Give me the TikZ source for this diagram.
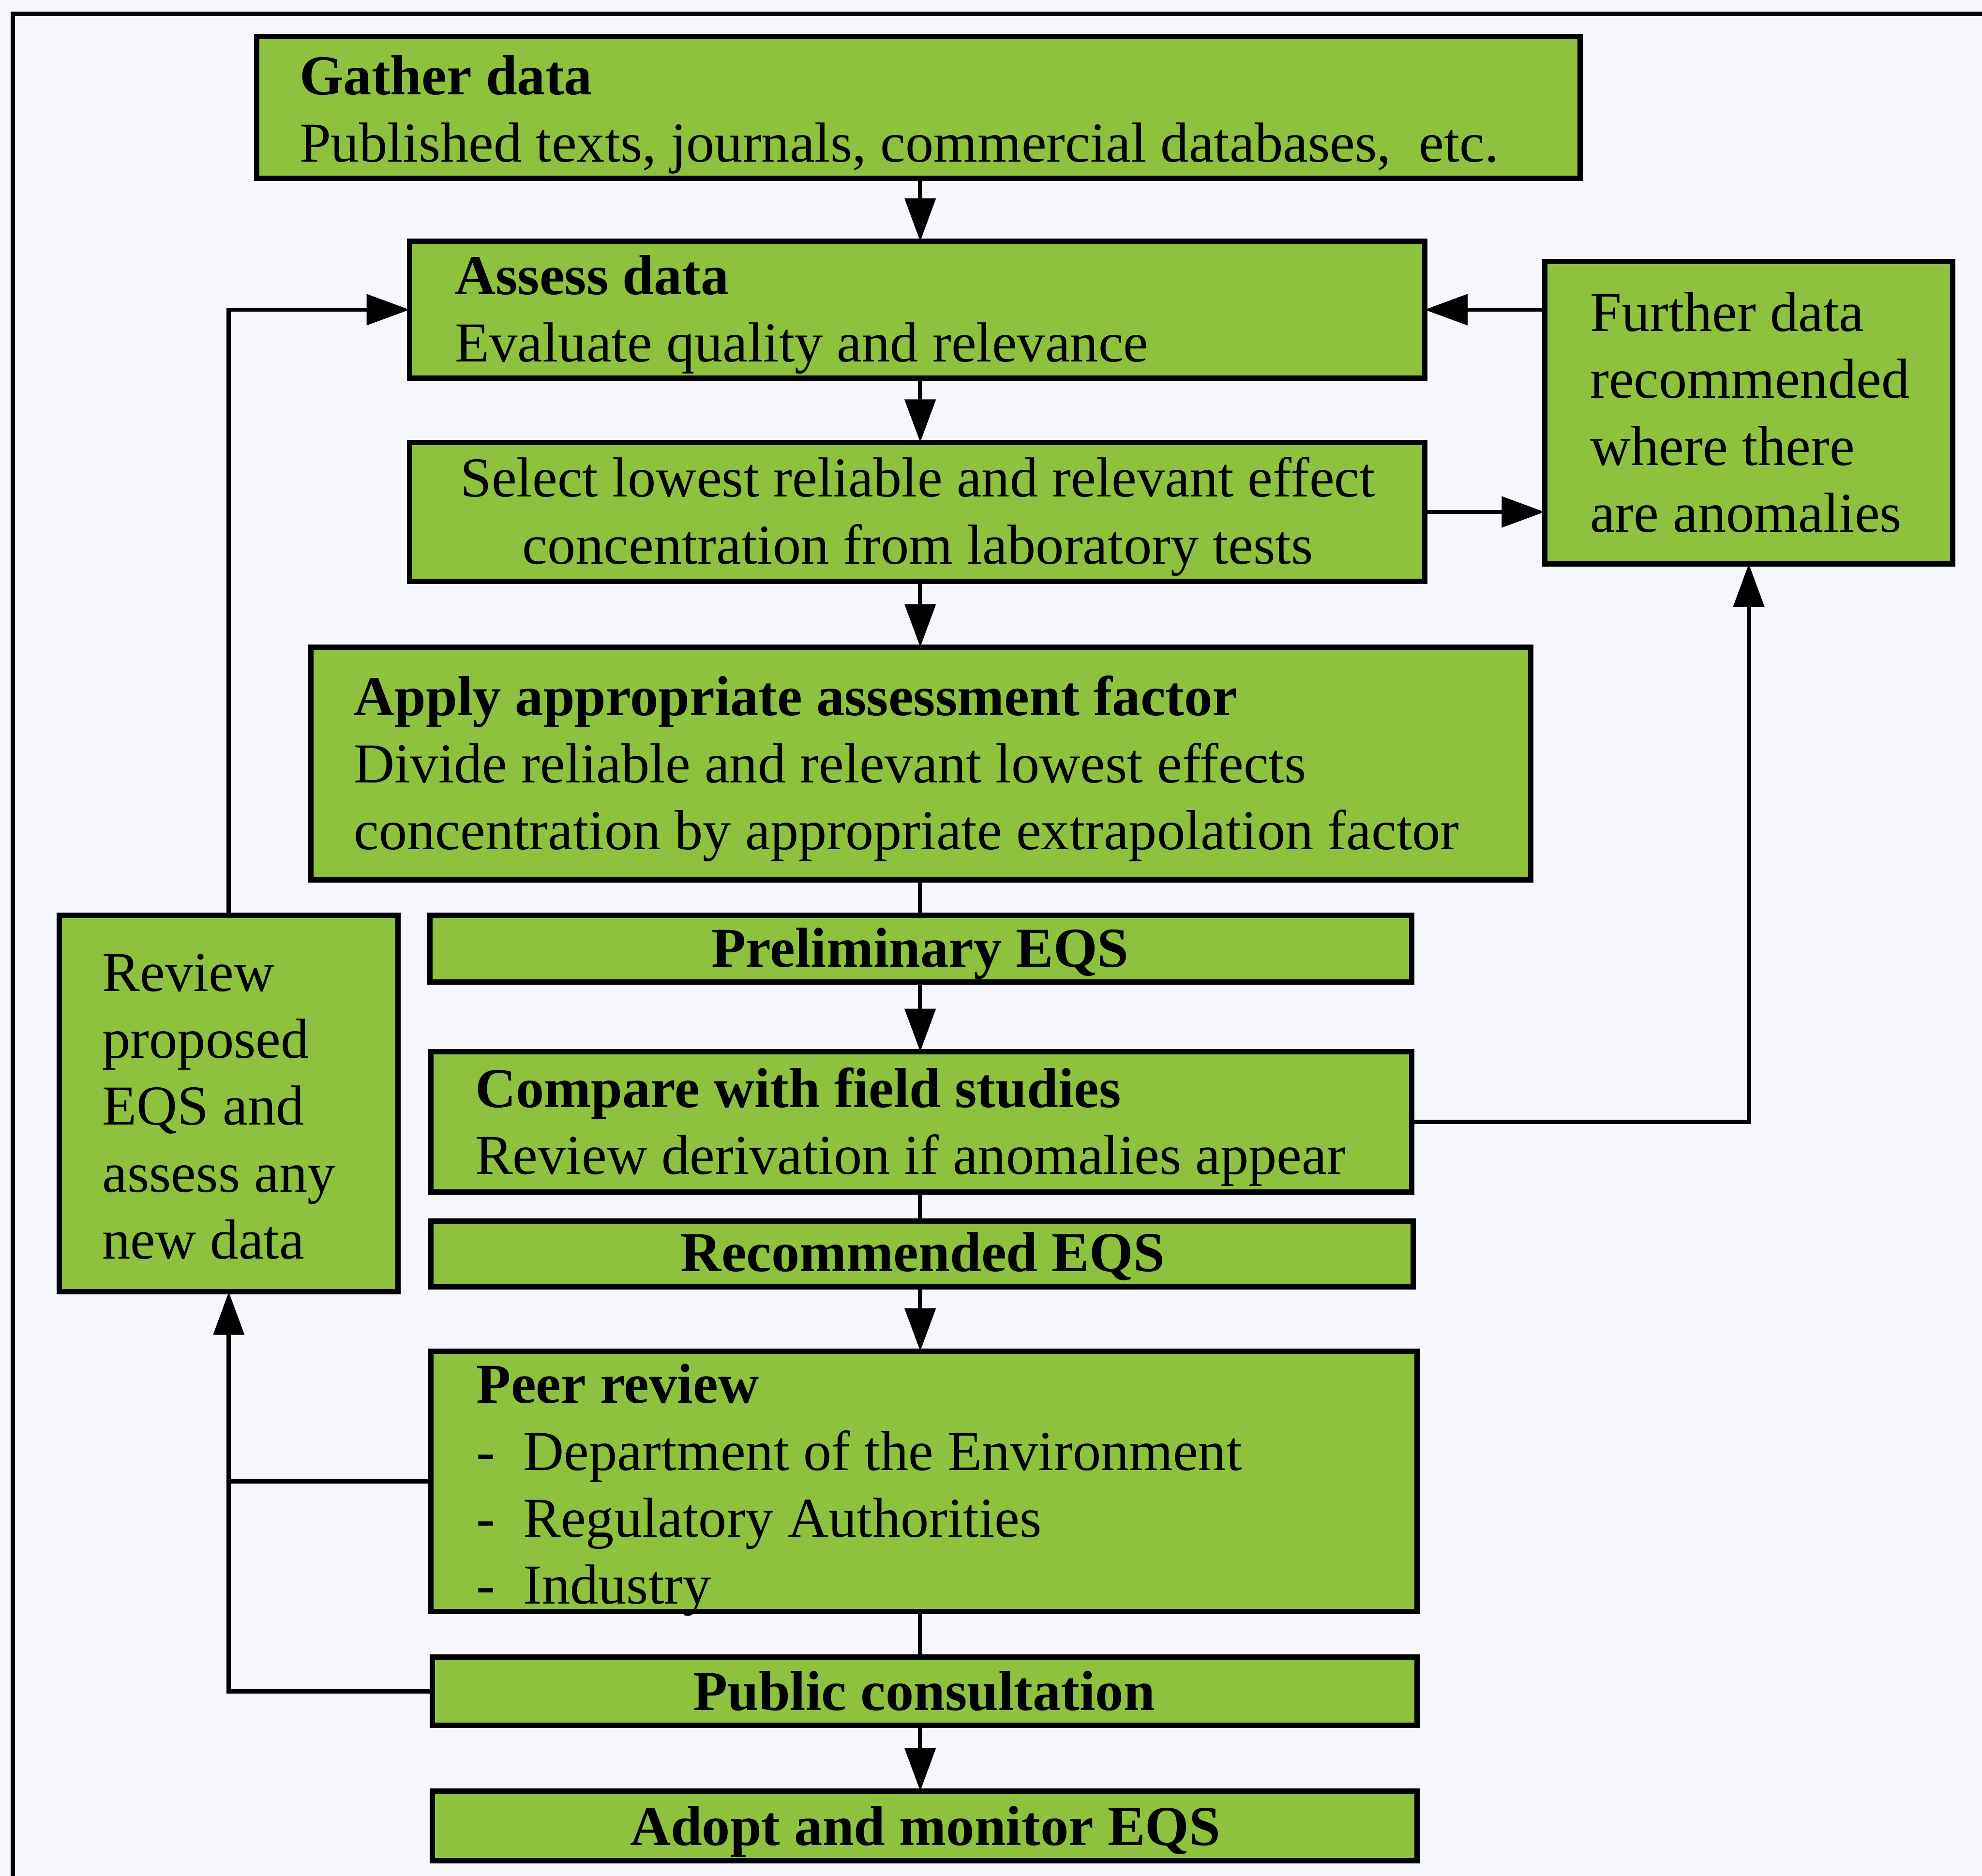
\documentclass[tikz,border=0pt]{standalone}
\usepackage{fontspec}
\setmainfont{Liberation Serif}
\usetikzlibrary{arrows.meta}
\definecolor{paper}{RGB}{246,247,252}
\definecolor{leaf}{RGB}{141,193,62}
% stack of lines; the baseline of the whole stack is that of its first line
\newcommand\linestack[1]{\vtop{\baselineskip=53pt\lineskiplimit=-200pt\lineskip=0pt #1}}
\newcommand\bulletline[1]{\hbox{\hbox to 37pt{-\hfil}#1}}
\begin{document}
\begin{tikzpicture}[x=1pt,y=-1pt,
  box/.style={draw=black, line width=4.2pt, fill=leaf, anchor=north west,
              inner sep=0pt, outer sep=0pt},
  txt/.style={inner sep=0pt, outer sep=0pt, font=\fontsize{44.6}{53}\selectfont},
  lbl/.style={txt, anchor=base west},
  ctr/.style={txt, anchor=base, font=\fontsize{44.6}{53}\selectfont\bfseries},
  link/.style={draw=black, line width=3.4pt},
  arr/.style={link, -{Triangle[length=34pt,width=24pt]}},
  frame/.style={draw=black, line width=3.4pt},
]
\useasboundingbox (0,0) rectangle (1568,1484);
\fill[paper] (0,0) rectangle (1568,1484);

% page frame: top rule and left rule
\coordinate (corner) at (10,11);
\draw[frame] (corner |- 0,1484) -- (corner) -- (1568,11);

% boxes (top-left corner, width, height)
\node[box, minimum width={1250-203}, minimum height={141-29}] (gather) at (203,29) {};
\node[box, minimum width={1127-324}, minimum height={299-191}] (assess) at (324,191) {};
\node[box, minimum width={1545-1222}, minimum height={446-207}] (further) at (1222,207) {};
\node[box, minimum width={1127-324}, minimum height={460-350}] (select) at (324,350) {};
\node[box, minimum width={1211-246}, minimum height={696-512}] (apply) at (246,512) {};
\node[box, minimum width={1117-340}, minimum height={777-724}] (prelim) at (340,724) {};
\node[box, minimum width={315-47}, minimum height={1022-724}] (review) at (47,724) {};
\node[box, minimum width={1117-341}, minimum height={943-832}] (compare) at (341,832) {};
\node[box, minimum width={1118-341}, minimum height={1018-966}] (recom) at (341,966) {};
\node[box, minimum width={1121-341}, minimum height={1275-1069}] (peer) at (341,1069) {};
\node[box, minimum width={1121-342}, minimum height={1365-1311}] (public) at (342,1311) {};
\node[box, minimum width={1121-342}, minimum height={1472-1417}] (adopt) at (342,1417) {};

% box texts
\node[lbl] (gatherT) at (237,75) {\linestack{\hbox{\bfseries Gather data}
  \hbox{Published texts, journals, commercial databases,\ \ etc.}}};
\node[lbl] (assessT) at (360,233) {\linestack{\hbox{\bfseries Assess data}
  \hbox{Evaluate quality and relevance}}};
\node[txt, anchor=base] (selectT1) at (726,393) {Select lowest reliable and relevant effect};
\node[txt, anchor=base] (selectT2) at (726,446) {concentration from laboratory tests};
\node[lbl] (furtherT) at (1258,262) {\linestack{\hbox{Further data}
  \hbox{recommended}\hbox{where there}\hbox{are anomalies}}};
\node[lbl] (applyT) at (280,566) {\linestack{\hbox{\bfseries Apply appropriate assessment factor}
  \hbox{Divide reliable and relevant lowest effects}
  \hbox{concentration by appropriate extrapolation factor}}};
\node[ctr] (prelimT) at (728,765) {Preliminary EQS};
\node[lbl] (reviewT) at (81,784) {\linestack{\hbox{Review}\hbox{proposed}
  \hbox{EQS and}\hbox{assess any}\hbox{new data}}};
\node[lbl] (compareT) at (376,876) {\linestack{\hbox{\bfseries Compare with field studies}
  \hbox{Review derivation if anomalies appear}}};
\node[ctr] (recomT) at (730,1006) {Recommended EQS};
\node[lbl] (peerT) at (377,1110) {\linestack{\hbox{\bfseries Peer review}
  \bulletline{Department of the Environment}
  \bulletline{Regulatory Authorities}
  \bulletline{Industry}}};
\node[ctr] (publicT) at (731,1353) {Public consultation};
\node[ctr] (adoptT) at (732,1460) {Adopt and monitor EQS};

% main sequence down the middle
\coordinate (spine) at (728,0);
\draw[arr]  (gather.south -| spine) -- (assess.north -| spine);
\draw[arr]  (assess.south -| spine) -- (select.north -| spine);
\draw[arr]  (select.south -| spine) -- (apply.north -| spine);
\draw[link] (apply.south -| spine) -- (prelim.north -| spine);
\draw[arr]  (prelim.south -| spine) -- (compare.north -| spine);
\draw[link] (compare.south -| spine) -- (recom.north -| spine);
\draw[arr]  (recom.south -| spine) -- (peer.north -| spine);
\draw[link] (peer.south -| spine) -- (public.north -| spine);
\draw[arr]  (public.south -| spine) -- (adopt.north -| spine);

% loops through the side boxes
\draw[arr] (further.west |- assess.east) -- (assess.east);
\draw[arr] (select.east) -- (select.east -| further.west);
\draw[arr] (compare.east) -| (further.south);
\draw[arr] (review.north) |- (assess.west);
\draw[arr] (peer.west) -| (review.south);
\draw[link] (public.west) -| (review.south |- peer.west);
\end{tikzpicture}
\end{document}
